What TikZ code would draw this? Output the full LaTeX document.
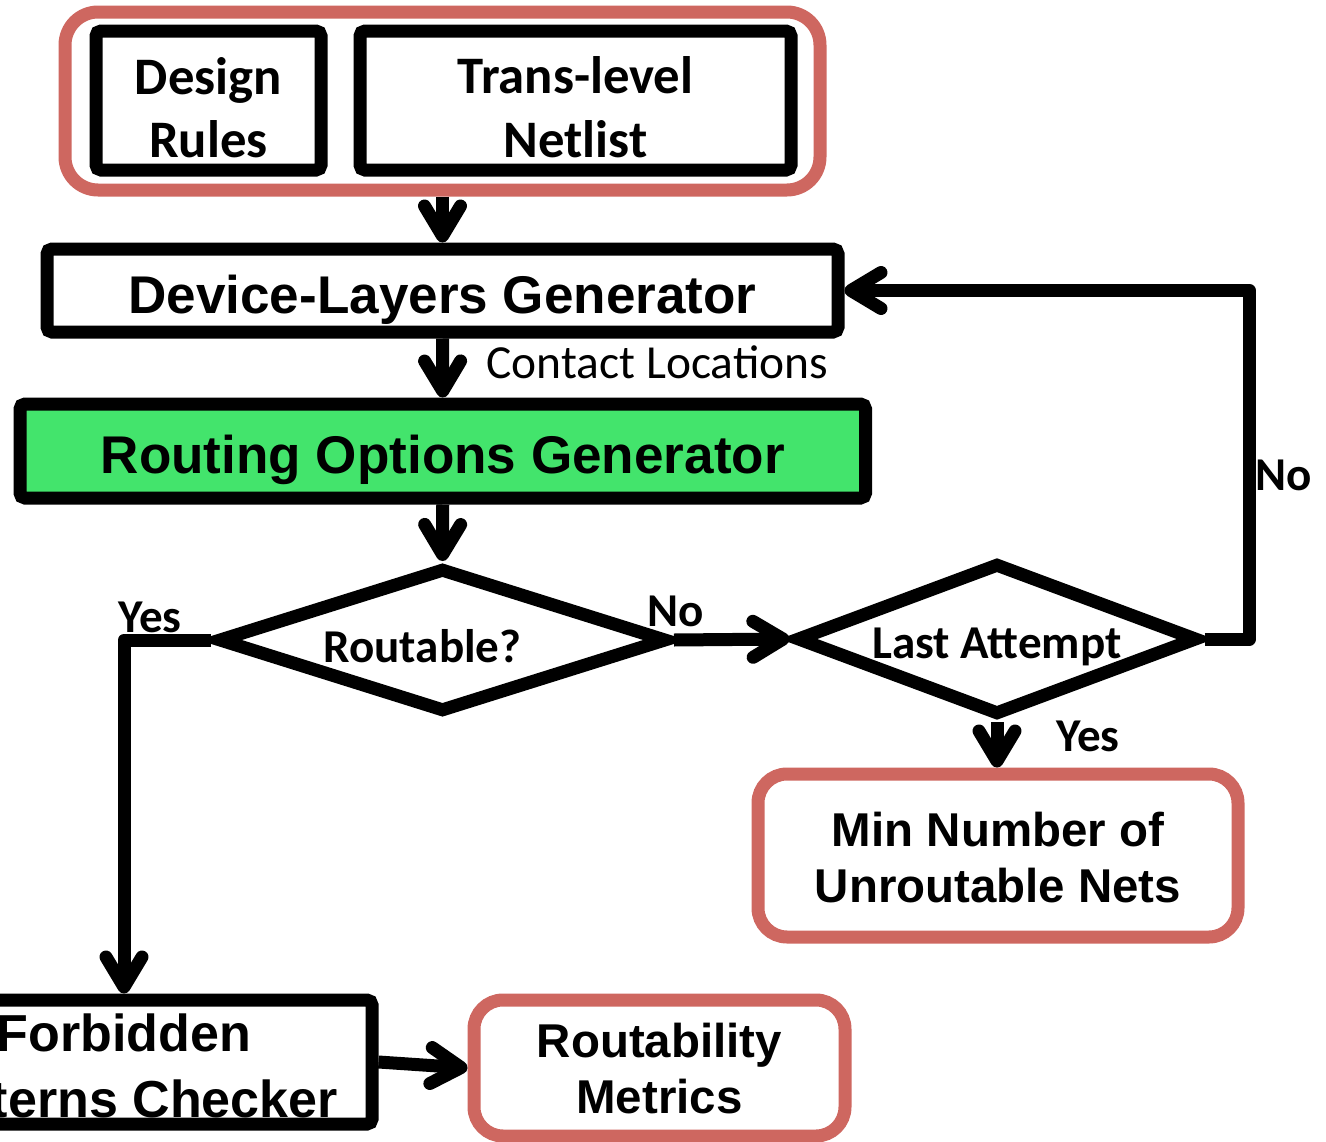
\documentclass[tikz,border=0pt]{standalone}
\usepackage{fontspec}
\setmainfont{Carlito}
\newfontfamily\arialfont{Liberation Sans}
\usetikzlibrary{arrows.meta,shapes.geometric}
\definecolor{nodered}{RGB}{206,103,96}
\definecolor{optgreen}{RGB}{67,228,108}

\begin{document}
\begin{tikzpicture}[x=0.1mm,y=-0.1mm,
  block/.style={draw, line width=1.3mm, rounded corners=0.5mm, inner sep=0pt, align=center},
  redblock/.style={block, draw=nodered, rounded corners=2.9mm},
  decision/.style={draw, diamond, line width=1.3mm, inner sep=0pt, font=\fontsize{13.4}{16}\selectfont\bfseries},
  flow/.style={line width=1.3mm, line join=round, -{Straight Barb[length=3mm,width=3.6mm,round]}},
  tag/.style={inner sep=0pt, font=\fontsize{13.4}{16}\selectfont\bfseries},
  calfont/.style={font=\fontsize{15}{18.2}\selectfont\bfseries},
  arialbig/.style={font=\arialfont\fontsize{15.1}{18}\selectfont\bfseries},
  arialmid/.style={font=\arialfont\fontsize{14.8}{18.5}\selectfont\bfseries},
  arialsmall/.style={font=\arialfont\fontsize{13.5}{15.9}\selectfont\bfseries}]
  \useasboundingbox (0,0) rectangle (1326,1142);
  \node[redblock, minimum width=75.5mm, minimum height=17.8mm, rounded corners=3.3mm] (inputs) at (442.5,101) {};
  \node[block, calfont, minimum width=22.5mm, minimum height=13.9mm, text height=12mm, text depth=0.5mm] (rules) at (208.5,100.5) {Design\\Rules};
  \node[block, calfont, minimum width=43.1mm, minimum height=13.9mm, text height=11.8mm, text depth=0.5mm] (netlist) at (575.5,100.5) {Trans-level\\Netlist};
  \node[block, arialbig, minimum width=79.1mm, minimum height=8.3mm, text height=5mm, text depth=0.5mm] (dlg) at (442.5,290.5) {Device-Layers Generator};
  \node[block, arialbig, fill=optgreen, minimum width=84.55mm, minimum height=9.4mm, text height=5mm, text depth=0.6mm] (rog) at (442.75,451) {Routing Options Generator};
  \node[decision, minimum width=45mm, minimum height=14.5mm, aspect=3.1, text height=4.8mm, text depth=0.4mm] (rout) at (442.5,640) {Routable?\hspace*{4mm}};
  \node[decision, minimum width=40.2mm, minimum height=15.3mm, aspect=2.63, text height=4.4mm, text depth=0.5mm] (last) at (997,639) {Last Attempt};
  \node[redblock, arialsmall, minimum width=48mm, minimum height=16.3mm, text height=9.8mm, text depth=0.5mm] (minnets) at (998,855.5) {Min Number of\\Unroutable Nets};
  \node[block, arialmid, minimum width=49.6mm, minimum height=12.4mm, text height=11.5mm, text depth=0.5mm] (checker) at (124,1062) {Forbidden\\Patterns Checker};
  \node[redblock, arialsmall, minimum width=37.1mm, minimum height=13.6mm, text height=9.5mm, text depth=0.5mm] (metrics) at (659.5,1068) {Routability\\Metrics};
  \node[font=\fontsize{13.5}{16}\selectfont, anchor=west, inner sep=0pt] (contact) at (486,362) {Contact Locations};
  \node[tag] (noa) at (676,611) {No};
  \node[tag] (yesa) at (150,617) {Yes};
  \node[tag] (yesb) at (1088,736) {Yes};
  \node[tag] (nob) at (1284,475) {No};
  \draw[flow] (inputs.south) -- (dlg.north);
  \draw[flow] (dlg.south) -- (rog.north);
  \draw[flow] (rog.south) -- (rout.north);
  \draw[flow] (rout.east) -- (last.west);
  \draw[flow] (rout.west) -| (checker.north);
  \draw[flow] (last.east) -- ++(45,0) |- (dlg.east);
  \draw[flow] (last.south) -- (last.south |- minnets.north);
  \draw[flow] (checker.east) -- (metrics.west);
\end{tikzpicture}
\end{document}
